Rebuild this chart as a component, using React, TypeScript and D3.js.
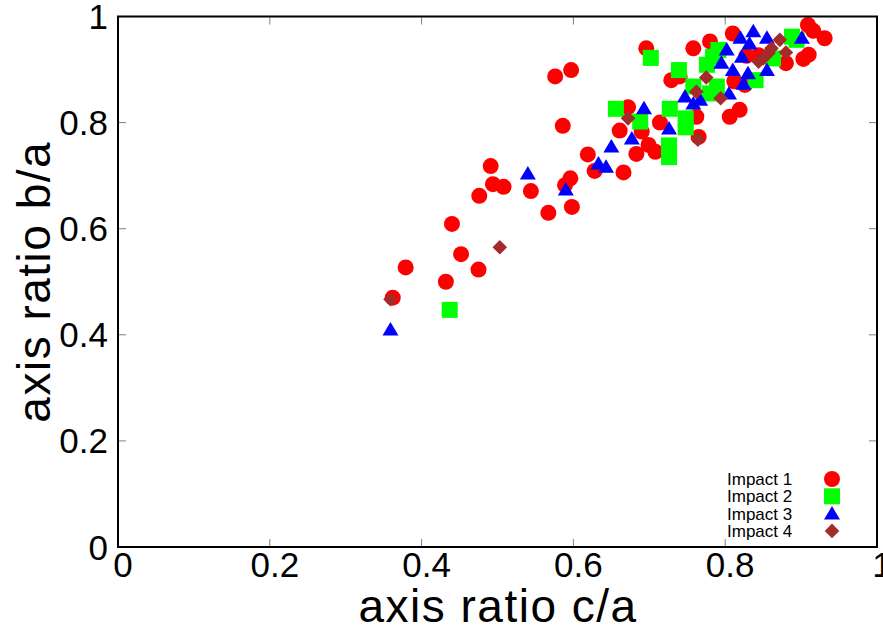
import React from 'react'
import * as d3 from 'd3'

// c/a, b/a pairs
const impact1 = [
  [0.362, 0.47], [0.379, 0.527], [0.432, 0.5], [0.44, 0.609], [0.452, 0.552],
  [0.475, 0.523], [0.476, 0.662], [0.491, 0.718], [0.494, 0.684], [0.508, 0.679],
  [0.544, 0.671], [0.567, 0.63], [0.576, 0.887], [0.586, 0.794], [0.589, 0.682],
  [0.596, 0.695], [0.597, 0.899], [0.598, 0.641], [0.619, 0.74], [0.628, 0.709],
  [0.661, 0.785], [0.666, 0.706], [0.672, 0.829], [0.683, 0.741], [0.69, 0.783],
  [0.696, 0.94], [0.699, 0.758], [0.708, 0.745], [0.714, 0.8], [0.729, 0.88],
  [0.74, 0.887], [0.758, 0.94], [0.762, 0.811], [0.765, 0.773], [0.78, 0.953],
  [0.806, 0.811], [0.819, 0.824], [0.81, 0.968], [0.812, 0.878], [0.826, 0.871],
  [0.828, 0.926], [0.844, 0.927], [0.88, 0.912], [0.903, 0.92], [0.91, 0.928],
  [0.909, 0.984], [0.916, 0.973], [0.931, 0.959]
]
const impact2 = [
  [0.437, 0.447], [0.656, 0.826], [0.688, 0.802], [0.702, 0.922], [0.727, 0.826],
  [0.726, 0.757], [0.726, 0.735], [0.739, 0.899], [0.748, 0.808], [0.748, 0.791],
  [0.758, 0.868], [0.776, 0.909], [0.78, 0.855], [0.784, 0.924], [0.791, 0.937],
  [0.789, 0.868], [0.84, 0.88], [0.863, 0.921], [0.888, 0.962], [0.894, 0.956]
]
const impact3 = [
  [0.359, 0.41], [0.54, 0.704], [0.59, 0.674], [0.633, 0.723], [0.643, 0.717],
  [0.65, 0.755], [0.677, 0.77], [0.693, 0.827], [0.726, 0.789], [0.747, 0.849],
  [0.758, 0.836], [0.767, 0.843], [0.795, 0.913], [0.802, 0.938], [0.81, 0.899],
  [0.805, 0.855], [0.82, 0.96], [0.822, 0.924], [0.824, 0.873], [0.83, 0.893],
  [0.832, 0.949], [0.837, 0.972], [0.855, 0.96], [0.855, 0.899], [0.901, 0.96]
]
const impact4 = [
  [0.359, 0.467], [0.503, 0.565], [0.672, 0.808], [0.762, 0.858], [0.764, 0.768],
  [0.775, 0.885], [0.794, 0.846], [0.844, 0.915], [0.85, 0.921], [0.857, 0.931],
  [0.861, 0.94], [0.872, 0.956], [0.88, 0.932]
]

const seriesNames = ['Impact 1', 'Impact 2', 'Impact 3', 'Impact 4']
const xTicks = [0, 0.2, 0.4, 0.6, 0.8, 1]
const xTickLabels = ['0', '0.2', '0.4', '0.6', '0.8', '1']
const yTicks = [0, 0.2, 0.4, 0.6, 0.8, 1]
const yTickLabels = ['0', '0.2', '0.4', '0.6', '0.8', '1']

const W = 883
const H = 630
const left = 118
const right = 877
const top = 16.5
const bottom = 547
const font = '"Liberation Sans", Arial, Helvetica, sans-serif'

const x = d3.scaleLinear().domain([0, 1]).range([left, right])
const y = d3.scaleLinear().domain([0, 1]).range([bottom, top])

function marker(kind, cx, cy, key) {
  if (kind === 0) return <circle key={key} cx={cx} cy={cy} r={8} fill="#ff0000" />
  if (kind === 1)
    return <rect key={key} x={cx - 8} y={cy - 8} width={16} height={16} fill="#00ff00" />
  if (kind === 2)
    return (
      <path
        key={key}
        d={`M${cx - 8},${cy + 6}L${cx + 8},${cy + 6}L${cx},${cy - 7.5}Z`}
        fill="#0000ff"
      />
    )
  return (
    <path
      key={key}
      d={`M${cx},${cy - 7.3}L${cx + 7.3},${cy}L${cx},${cy + 7.3}L${cx - 7.3},${cy}Z`}
      fill="#a52a2a"
    />
  )
}

export default function App() {
  const all = [impact1, impact2, impact3, impact4]
  return (
    <svg
      width={W}
      height={H}
      style={{ position: 'absolute', left: 0, top: 0, background: '#fff' }}
      fontFamily={font}
    >
      <rect width={W} height={H} fill="#fff" />

      {all.map((pts, s) => (
        <g key={s}>{pts.map((p, i) => marker(s, x(p[0]), y(p[1]), i))}</g>
      ))}

      {/* ticks on all four sides, pointing inward */}
      <g stroke="#808080" strokeWidth={1}>
        {xTicks.map((t, i) => (
          <g key={'xt' + i}>
            <line x1={x(t)} x2={x(t)} y1={bottom} y2={bottom - 8} />
            <line x1={x(t)} x2={x(t)} y1={top} y2={top + 8} />
          </g>
        ))}
        {yTicks.map((t, i) => (
          <g key={'yt' + i}>
            <line x1={left} x2={left + 8} y1={y(t)} y2={y(t)} />
            <line x1={right} x2={right - 8} y1={y(t)} y2={y(t)} />
          </g>
        ))}
      </g>

      <rect
        x={left}
        y={top}
        width={right - left}
        height={bottom - top}
        fill="none"
        stroke="#000"
        strokeWidth={2}
      />

      <g fontSize={35} fill="#000">
        {xTicks.map((t, i) => (
          <text key={'xl' + i} x={x(t) + 5} y={577} textAnchor="middle">
            {xTickLabels[i]}
          </text>
        ))}
        {yTicks.map((t, i) => (
          <text key={'yl' + i} x={108} y={y(t) + 12.5} textAnchor="end">
            {yTickLabels[i]}
          </text>
        ))}
      </g>

      <text x={498} y={621.5} textAnchor="middle" fontSize={46} letterSpacing={1.5}>
        axis ratio c/a
      </text>
      <text
        transform={`translate(50,${(top + bottom) / 2}) rotate(-90)`}
        textAnchor="middle"
        fontSize={46}
        letterSpacing={1.5}
      >
        axis ratio b/a
      </text>

      <g fontSize={17}>
        {seriesNames.map((name, i) => (
          <g key={name}>
            <text x={727} y={485 + i * 17.3}>
              {name}
            </text>
            {marker(i, 832, 479 + i * 17.3, 'lg' + i)}
          </g>
        ))}
      </g>
    </svg>
  )
}
